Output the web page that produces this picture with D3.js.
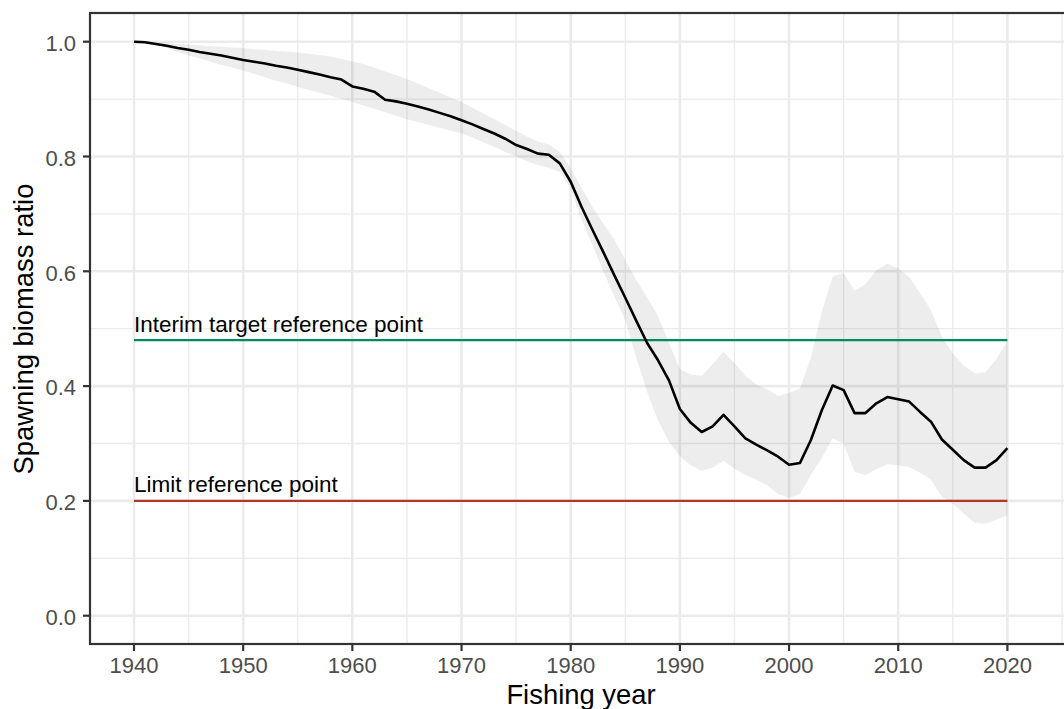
<!DOCTYPE html>
<html>
<head>
<meta charset="utf-8">
<script src="https://cdn.jsdelivr.net/npm/d3@7"></script>
<style>
  body { margin: 0; background: #fff; }
  svg text { font-family: "Liberation Sans", Arial, sans-serif; }
</style>
</head>
<body>
<div id="chart"></div>
<script>
// fishing years
const years = [1940,1941,1942,1943,1944,1945,1946,1947,1948,1949,
  1950,1951,1952,1953,1954,1955,1956,1957,1958,1959,
  1960,1961,1962,1963,1964,1965,1966,1967,1968,1969,
  1970,1971,1972,1973,1974,1975,1976,1977,1978,1979,
  1980,1981,1982,1983,1984,1985,1986,1987,1988,1989,
  1990,1991,1992,1993,1994,1995,1996,1997,1998,1999,
  2000,2001,2002,2003,2004,2005,2006,2007,2008,2009,
  2010,2011,2012,2013,2014,2015,2016,2017,2018,2019,2020];

// median spawning biomass ratio
const ratio = [1.000,0.999,0.996,0.993,0.989,0.986,0.982,0.979,0.976,0.972,
  0.968,0.965,0.962,0.958,0.955,0.951,0.947,0.943,0.938,0.934,
  0.922,0.918,0.913,0.899,0.896,0.892,0.887,0.882,0.876,0.870,
  0.863,0.856,0.848,0.840,0.831,0.820,0.813,0.805,0.803,0.788,
  0.756,0.712,0.672,0.633,0.593,0.554,0.514,0.475,0.445,0.410,
  0.360,0.336,0.320,0.330,0.350,0.330,0.309,0.298,0.288,0.277,
  0.263,0.266,0.306,0.358,0.401,0.393,0.353,0.353,0.370,0.381,
  0.377,0.373,0.355,0.338,0.307,0.289,0.271,0.258,0.258,0.271,0.292];

// credible interval bounds
const upper = [1.000,1.000,0.999,0.998,0.996,0.995,0.994,0.992,0.991,0.990,
  0.989,0.987,0.986,0.984,0.983,0.981,0.979,0.977,0.974,0.970,
  0.966,0.961,0.955,0.948,0.942,0.935,0.927,0.919,0.911,0.903,
  0.895,0.885,0.875,0.865,0.855,0.845,0.835,0.826,0.821,0.808,
  0.780,0.745,0.712,0.683,0.655,0.620,0.585,0.555,0.522,0.475,
  0.430,0.420,0.418,0.438,0.460,0.440,0.418,0.403,0.394,0.383,
  0.388,0.396,0.450,0.530,0.591,0.597,0.566,0.578,0.602,0.613,
  0.605,0.590,0.562,0.532,0.486,0.457,0.436,0.422,0.424,0.447,0.478];

const lower = [1.000,0.999,0.995,0.989,0.982,0.976,0.971,0.965,0.960,0.955,
  0.950,0.944,0.938,0.932,0.927,0.921,0.916,0.911,0.906,0.900,
  0.895,0.889,0.883,0.877,0.871,0.865,0.860,0.855,0.850,0.845,
  0.840,0.833,0.825,0.817,0.808,0.800,0.792,0.785,0.780,0.773,
  0.745,0.690,0.645,0.600,0.556,0.515,0.450,0.390,0.340,0.303,
  0.278,0.262,0.252,0.258,0.270,0.256,0.245,0.237,0.227,0.212,
  0.205,0.212,0.245,0.275,0.309,0.300,0.251,0.245,0.255,0.264,
  0.262,0.259,0.249,0.237,0.207,0.195,0.178,0.162,0.160,0.167,0.175];

// reference points
const refLabels = ["Interim target reference point", "Limit reference point"];
const refValues = [0.48, 0.2];
const refColors = ["#008a5e", "#b03a2a"];

const xTicks = [1940,1950,1960,1970,1980,1990,2000,2010,2020];
const xMinor = [1945,1955,1965,1975,1985,1995,2005,2015,2025];
const yTicks = [0,0.2,0.4,0.6,0.8,1.0];
const yMinor = [0.1,0.3,0.5,0.7,0.9];

const W = 1064, H = 709;
const panel = {left: 90, top: 13, right: 1073, bottom: 644};

const x = d3.scaleLinear().domain([1940, 2020]).range([134, 1007.4]);
const y = d3.scaleLinear().domain([0, 1]).range([615.7, 41.7]);

const data = years.map((yr, i) => ({year: yr, r: ratio[i], lo: lower[i], hi: upper[i]}));

const svg = d3.select("#chart").append("svg")
  .attr("width", W).attr("height", H);

svg.append("rect").attr("width", W).attr("height", H).attr("fill", "#fff");

// grid
const grid = svg.append("g");
grid.selectAll(".xminor").data(xMinor).enter().append("line")
  .attr("x1", d => x(d)).attr("x2", d => x(d))
  .attr("y1", panel.top).attr("y2", panel.bottom)
  .attr("stroke", "#ebebeb").attr("stroke-width", 1.3);
grid.selectAll(".yminor").data(yMinor).enter().append("line")
  .attr("y1", d => y(d)).attr("y2", d => y(d))
  .attr("x1", panel.left).attr("x2", panel.right)
  .attr("stroke", "#ebebeb").attr("stroke-width", 1.3);
grid.selectAll(".xmajor").data(xTicks).enter().append("line")
  .attr("x1", d => x(d)).attr("x2", d => x(d))
  .attr("y1", panel.top).attr("y2", panel.bottom)
  .attr("stroke", "#ebebeb").attr("stroke-width", 2.6);
grid.selectAll(".ymajor").data(yTicks).enter().append("line")
  .attr("y1", d => y(d)).attr("y2", d => y(d))
  .attr("x1", panel.left).attr("x2", panel.right)
  .attr("stroke", "#ebebeb").attr("stroke-width", 2.6);

// ribbon
svg.append("path")
  .datum(data)
  .attr("fill", "#333333")
  .attr("fill-opacity", 0.09)
  .attr("d", d3.area()
    .x(d => x(d.year))
    .y0(d => y(d.lo))
    .y1(d => y(d.hi)));

// reference lines
refValues.forEach((v, i) => {
  svg.append("line")
    .attr("x1", x(1940)).attr("x2", x(2020))
    .attr("y1", y(v)).attr("y2", y(v))
    .attr("stroke", refColors[i]).attr("stroke-width", 2.2);
  svg.append("text")
    .attr("x", x(1940)).attr("y", y(v) - 8.6)
    .attr("font-size", 22.5).attr("fill", "#000")
    .text(refLabels[i]);
});

// median line
svg.append("path")
  .datum(data)
  .attr("fill", "none")
  .attr("stroke", "#000")
  .attr("stroke-width", 2.6)
  .attr("stroke-linejoin", "round")
  .attr("d", d3.line()
    .x(d => x(d.year))
    .y(d => y(d.r)));

// panel border
svg.append("rect")
  .attr("x", panel.left).attr("y", panel.top)
  .attr("width", panel.right - panel.left).attr("height", panel.bottom - panel.top)
  .attr("fill", "none").attr("stroke", "#333").attr("stroke-width", 2.2);

// axes
svg.selectAll(".xtick").data(xTicks).enter().append("line")
  .attr("x1", d => x(d)).attr("x2", d => x(d))
  .attr("y1", panel.bottom).attr("y2", panel.bottom + 7)
  .attr("stroke", "#333").attr("stroke-width", 2.2);
svg.selectAll(".xlab").data(xTicks).enter().append("text")
  .attr("x", d => x(d)).attr("y", 673)
  .attr("text-anchor", "middle")
  .attr("font-size", 22).attr("fill", "#4d4d4d")
  .text(d => d);

svg.selectAll(".ytick").data(yTicks).enter().append("line")
  .attr("y1", d => y(d)).attr("y2", d => y(d))
  .attr("x1", panel.left - 7).attr("x2", panel.left)
  .attr("stroke", "#333").attr("stroke-width", 2.2);
svg.selectAll(".ylab").data(yTicks).enter().append("text")
  .attr("x", 76).attr("y", d => y(d) + 9.3)
  .attr("text-anchor", "end")
  .attr("font-size", 22).attr("fill", "#4d4d4d")
  .text(d => d3.format(".1f")(d));

// axis titles
svg.append("text")
  .attr("x", 581).attr("y", 704)
  .attr("text-anchor", "middle")
  .attr("font-size", 27.4).attr("fill", "#000")
  .text("Fishing year");
svg.append("text")
  .attr("transform", "translate(33,329) rotate(-90)")
  .attr("text-anchor", "middle")
  .attr("font-size", 27.4).attr("fill", "#000")
  .text("Spawning biomass ratio");
</script>
</body>
</html>
